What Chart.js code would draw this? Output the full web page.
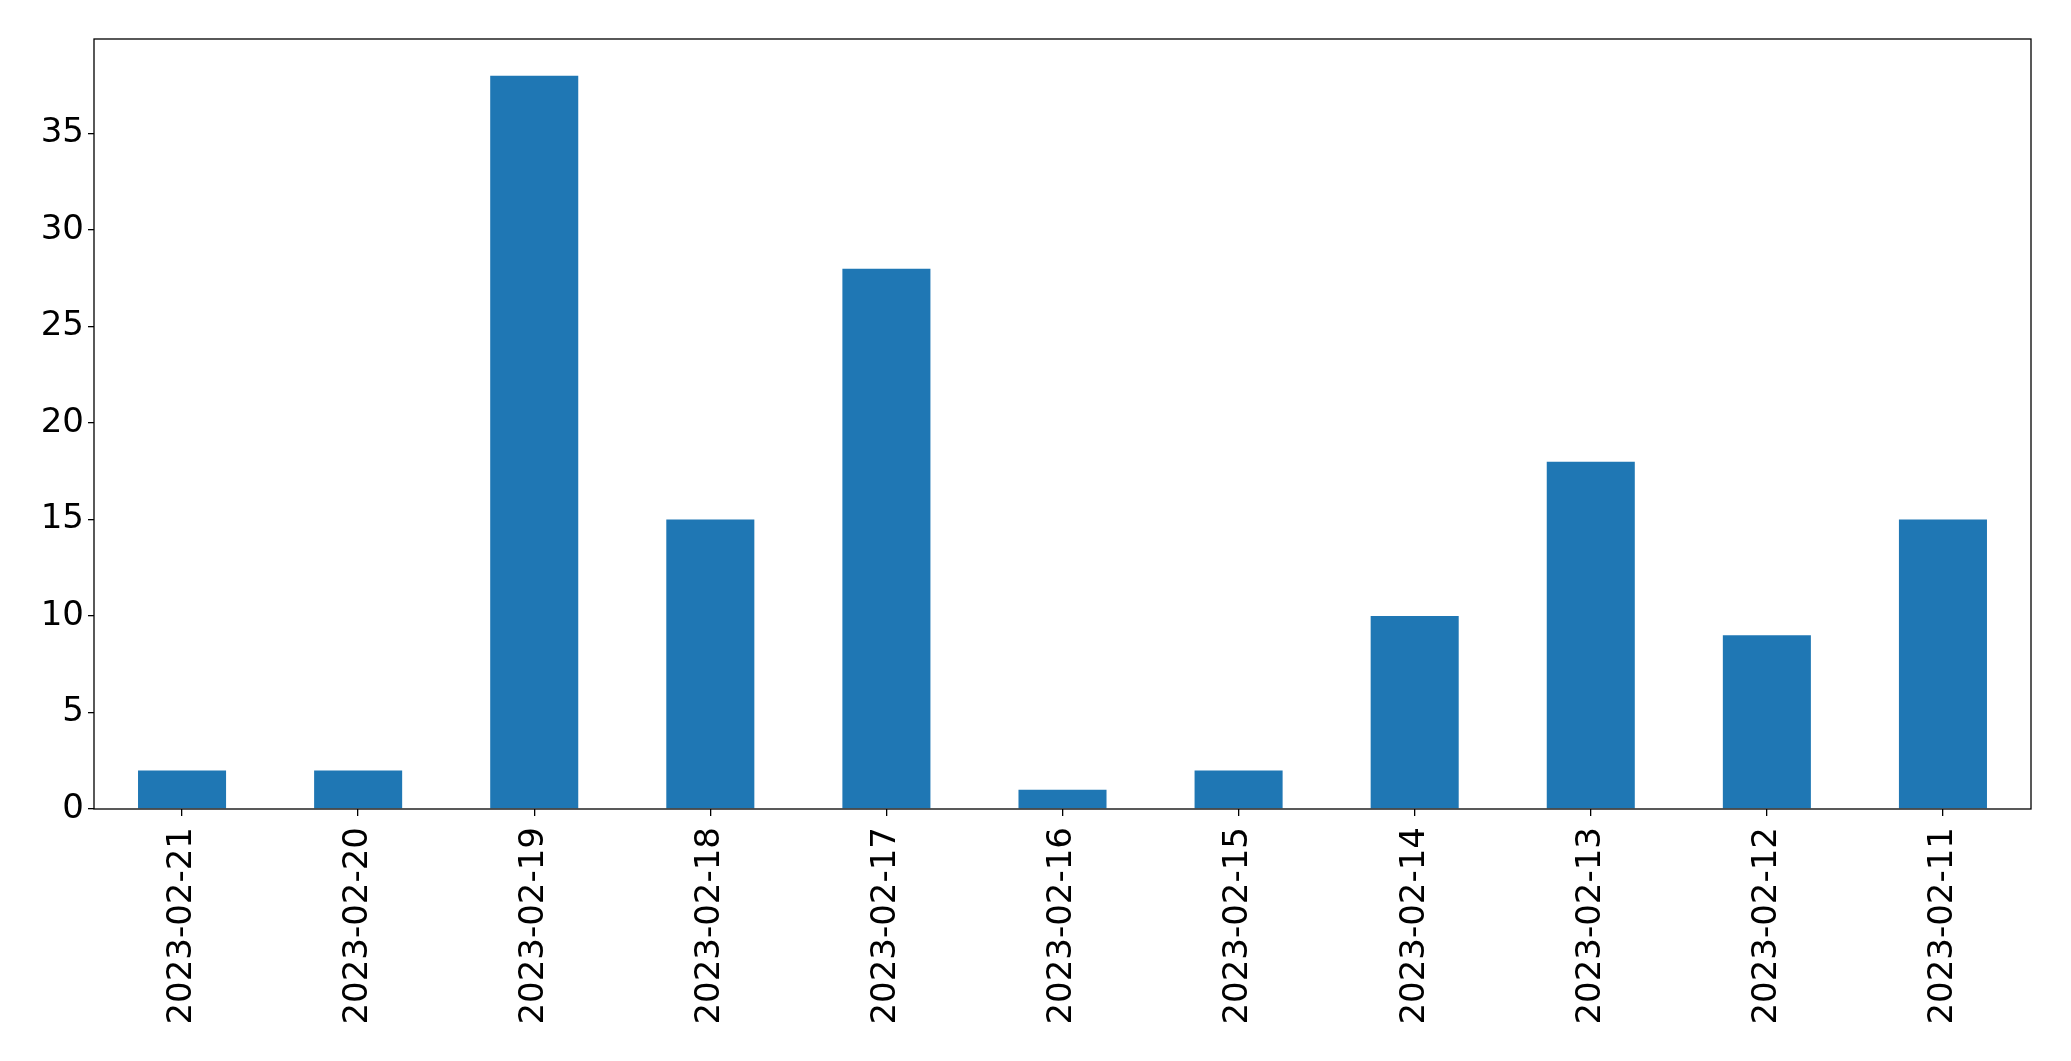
<!DOCTYPE html>
<html>
<head>
<meta charset="utf-8">
<script src="https://cdn.jsdelivr.net/npm/chart.js@4/dist/chart.umd.min.js"></script>
<style>
  html, body { margin: 0; padding: 0; background: #fff; }
  canvas { display: block; }
</style>
</head>
<body>
<canvas id="my-chart" width="2071" height="1061"></canvas>
<script>
'use strict';

let dates = ['2023-02-21', '2023-02-20', '2023-02-19', '2023-02-18', '2023-02-17', '2023-02-16',
  '2023-02-15', '2023-02-14', '2023-02-13', '2023-02-12', '2023-02-11'];
let counts = [2, 2, 38, 15, 28, 1, 2, 10, 18, 9, 15];
let yTicks = [0, 5, 10, 15, 20, 25, 30, 35];

Chart.defaults.font.family = 'DejaVu Sans';
Chart.defaults.font.size = 34;
Chart.defaults.color = '#000';

// matplotlib style box round the plot
let frame = {
  id: 'frame',
  afterDatasetsDraw(chart) {
    let a = chart.chartArea;
    let ctx = chart.ctx;
    ctx.save();
    ctx.strokeStyle = '#000';
    ctx.lineWidth = 1.3;
    ctx.strokeRect(a.left, a.top, a.right - a.left, a.bottom - a.top);
    ctx.restore();
  }
};

let canvasElement = document.getElementById('my-chart');

new Chart(canvasElement, {
  type: 'bar',
  data: {
    labels: dates,
    datasets: [{
      data: counts,
      backgroundColor: '#1f77b4',
      barPercentage: 0.5,
      categoryPercentage: 1
    }]
  },
  options: {
    responsive: false,
    animation: false,
    layout: { padding: { left: 0, top: 39, right: 40, bottom: 0 } },
    plugins: { legend: { display: false }, tooltip: { enabled: false } },
    scales: {
      x: {
        grid: { offset: false, drawOnChartArea: false, tickLength: 7, color: '#000', lineWidth: 1.3 },
        border: { display: false },
        ticks: { minRotation: 90, maxRotation: 90, padding: 11, autoSkip: false },
        afterFit(scale) { scale.height = 252; }
      },
      y: {
        min: 0,
        max: 39.9,
        grid: { drawOnChartArea: false, tickLength: 6, color: '#000', lineWidth: 1.3 },
        border: { display: false },
        ticks: { padding: 4 },
        afterBuildTicks(scale) { scale.ticks = yTicks.map(v => ({ value: v })); },
        afterFit(scale) { scale.width = 94; }
      }
    }
  },
  plugins: [frame]
});
</script>
</body>
</html>
